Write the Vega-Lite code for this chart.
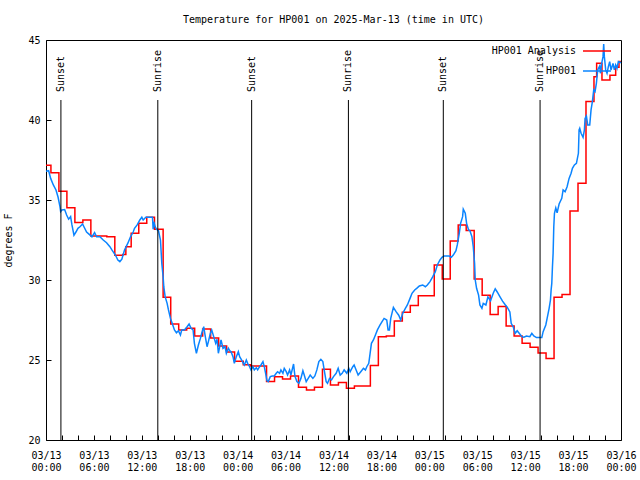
{
"$schema": "https://vega.github.io/schema/vega-lite/v6.json",
"width": 575, "height": 400,
"autosize": "none",
"padding": {"left": 46, "top": 40, "right": 19, "bottom": 40},
"background": "white",
"title": {"text": "Temperature for HP001 on 2025-Mar-13 (time in UTC)", "font": "DejaVu Sans Mono", "fontSize": 10, "fontWeight": "normal", "color": "black", "anchor": "middle", "offset": 10},
"config": {
  "view": {"stroke": "black", "strokeWidth": 1},
  "axis": {"labelFont": "DejaVu Sans Mono", "labelFontSize": 10, "labelColor": "black", "tickColor": "black", "domain": false, "grid": false, "titleFont": "DejaVu Sans Mono", "titleFontSize": 10, "titleFontWeight": "normal", "titleColor": "black"},
  "legend": {"orient": "none", "legendX": 536, "legendY": -4, "symbolType": "stroke", "symbolSize": 784, "symbolStrokeWidth": 1.5, "labelFont": "DejaVu Sans Mono", "labelFontSize": 10, "labelColor": "black", "labelAlign": "right", "labelOffset": -36, "rowPadding": -15, "padding": 0}
},
"datasets": {
  "sun": [
    {"t": "2025-03-13T01:52:00Z", "label": "Sunset"},
    {"t": "2025-03-13T14:00:00Z", "label": "Sunrise"},
    {"t": "2025-03-14T01:45:00Z", "label": "Sunset"},
    {"t": "2025-03-14T13:52:00Z", "label": "Sunrise"},
    {"t": "2025-03-15T01:45:00Z", "label": "Sunset"},
    {"t": "2025-03-15T13:52:00Z", "label": "Sunrise"}
  ],
  "analysis": [
    {"t": "2025-03-13T00:00:00Z", "v": 37.17},
    {"t": "2025-03-13T00:37:00Z", "v": 36.7},
    {"t": "2025-03-13T01:37:00Z", "v": 35.54},
    {"t": "2025-03-13T02:37:00Z", "v": 34.52},
    {"t": "2025-03-13T03:37:00Z", "v": 33.6},
    {"t": "2025-03-13T04:37:00Z", "v": 33.75},
    {"t": "2025-03-13T05:37:00Z", "v": 32.75},
    {"t": "2025-03-13T07:37:00Z", "v": 32.7},
    {"t": "2025-03-13T08:37:00Z", "v": 31.55},
    {"t": "2025-03-13T09:37:00Z", "v": 31.6},
    {"t": "2025-03-13T10:00:00Z", "v": 32.08},
    {"t": "2025-03-13T10:40:00Z", "v": 32.92},
    {"t": "2025-03-13T11:37:00Z", "v": 33.54},
    {"t": "2025-03-13T12:37:00Z", "v": 33.92},
    {"t": "2025-03-13T13:35:00Z", "v": 33.17},
    {"t": "2025-03-13T14:40:00Z", "v": 28.92},
    {"t": "2025-03-13T15:37:00Z", "v": 27.25},
    {"t": "2025-03-13T16:37:00Z", "v": 26.88},
    {"t": "2025-03-13T17:37:00Z", "v": 26.98},
    {"t": "2025-03-13T18:37:00Z", "v": 26.5},
    {"t": "2025-03-13T19:37:00Z", "v": 26.94},
    {"t": "2025-03-13T20:37:00Z", "v": 26.38},
    {"t": "2025-03-13T21:37:00Z", "v": 25.88},
    {"t": "2025-03-13T22:37:00Z", "v": 25.5},
    {"t": "2025-03-13T23:37:00Z", "v": 24.92},
    {"t": "2025-03-14T00:42:00Z", "v": 24.71},
    {"t": "2025-03-14T01:37:00Z", "v": 24.63},
    {"t": "2025-03-14T03:37:00Z", "v": 23.65},
    {"t": "2025-03-14T04:37:00Z", "v": 23.96},
    {"t": "2025-03-14T05:37:00Z", "v": 23.81},
    {"t": "2025-03-14T06:37:00Z", "v": 24.0},
    {"t": "2025-03-14T07:37:00Z", "v": 23.29},
    {"t": "2025-03-14T08:37:00Z", "v": 23.13},
    {"t": "2025-03-14T09:37:00Z", "v": 23.29},
    {"t": "2025-03-14T10:37:00Z", "v": 24.42},
    {"t": "2025-03-14T11:37:00Z", "v": 23.44},
    {"t": "2025-03-14T12:37:00Z", "v": 23.6},
    {"t": "2025-03-14T13:37:00Z", "v": 23.23},
    {"t": "2025-03-14T14:37:00Z", "v": 23.38},
    {"t": "2025-03-14T16:37:00Z", "v": 24.65},
    {"t": "2025-03-14T17:37:00Z", "v": 26.46},
    {"t": "2025-03-14T18:37:00Z", "v": 26.5},
    {"t": "2025-03-14T19:37:00Z", "v": 27.44},
    {"t": "2025-03-14T20:37:00Z", "v": 27.98},
    {"t": "2025-03-14T21:37:00Z", "v": 28.4},
    {"t": "2025-03-14T22:37:00Z", "v": 29.02},
    {"t": "2025-03-15T00:37:00Z", "v": 30.94},
    {"t": "2025-03-15T01:37:00Z", "v": 30.06},
    {"t": "2025-03-15T02:37:00Z", "v": 32.44},
    {"t": "2025-03-15T03:37:00Z", "v": 33.44},
    {"t": "2025-03-15T04:37:00Z", "v": 33.1},
    {"t": "2025-03-15T05:37:00Z", "v": 30.06},
    {"t": "2025-03-15T06:37:00Z", "v": 29.04},
    {"t": "2025-03-15T07:37:00Z", "v": 27.85},
    {"t": "2025-03-15T08:37:00Z", "v": 28.35},
    {"t": "2025-03-15T09:37:00Z", "v": 27.12},
    {"t": "2025-03-15T10:37:00Z", "v": 26.5},
    {"t": "2025-03-15T11:37:00Z", "v": 26.04},
    {"t": "2025-03-15T12:37:00Z", "v": 25.8},
    {"t": "2025-03-15T13:37:00Z", "v": 25.44},
    {"t": "2025-03-15T14:37:00Z", "v": 25.1},
    {"t": "2025-03-15T15:37:00Z", "v": 28.92},
    {"t": "2025-03-15T16:37:00Z", "v": 29.1},
    {"t": "2025-03-15T17:37:00Z", "v": 34.31},
    {"t": "2025-03-15T18:37:00Z", "v": 36.04},
    {"t": "2025-03-15T19:37:00Z", "v": 41.15},
    {"t": "2025-03-15T20:37:00Z", "v": 42.71},
    {"t": "2025-03-15T20:57:00Z", "v": 43.54},
    {"t": "2025-03-15T21:37:00Z", "v": 42.5},
    {"t": "2025-03-15T22:37:00Z", "v": 42.8},
    {"t": "2025-03-15T23:20:00Z", "v": 43.3},
    {"t": "2025-03-15T23:45:00Z", "v": 43.65},
    {"t": "2025-03-16T00:00:00Z", "v": 43.65}
  ],
  "obs": [
    {"t": "2025-03-13T00:00:00Z", "v": 36.8},
    {"t": "2025-03-13T00:20:00Z", "v": 36.83},
    {"t": "2025-03-13T00:35:00Z", "v": 36.35},
    {"t": "2025-03-13T00:55:00Z", "v": 35.94},
    {"t": "2025-03-13T01:15:00Z", "v": 35.63},
    {"t": "2025-03-13T01:30:00Z", "v": 35.2},
    {"t": "2025-03-13T01:45:00Z", "v": 34.58},
    {"t": "2025-03-13T01:50:00Z", "v": 34.27},
    {"t": "2025-03-13T02:00:00Z", "v": 34.38},
    {"t": "2025-03-13T02:20:00Z", "v": 34.4},
    {"t": "2025-03-13T02:35:00Z", "v": 34.06},
    {"t": "2025-03-13T02:50:00Z", "v": 33.8},
    {"t": "2025-03-13T03:05:00Z", "v": 33.96},
    {"t": "2025-03-13T03:15:00Z", "v": 33.44},
    {"t": "2025-03-13T03:30:00Z", "v": 32.8},
    {"t": "2025-03-13T03:45:00Z", "v": 33.0},
    {"t": "2025-03-13T04:00:00Z", "v": 33.23},
    {"t": "2025-03-13T04:15:00Z", "v": 33.33},
    {"t": "2025-03-13T04:35:00Z", "v": 33.5},
    {"t": "2025-03-13T04:45:00Z", "v": 33.33},
    {"t": "2025-03-13T05:05:00Z", "v": 33.0},
    {"t": "2025-03-13T05:25:00Z", "v": 32.85},
    {"t": "2025-03-13T05:45:00Z", "v": 32.7},
    {"t": "2025-03-13T06:05:00Z", "v": 32.96},
    {"t": "2025-03-13T06:20:00Z", "v": 32.7},
    {"t": "2025-03-13T06:45:00Z", "v": 32.7},
    {"t": "2025-03-13T07:10:00Z", "v": 32.5},
    {"t": "2025-03-13T07:35:00Z", "v": 32.33},
    {"t": "2025-03-13T08:00:00Z", "v": 32.08},
    {"t": "2025-03-13T08:15:00Z", "v": 31.88},
    {"t": "2025-03-13T08:30:00Z", "v": 31.7},
    {"t": "2025-03-13T08:45:00Z", "v": 31.5},
    {"t": "2025-03-13T09:00:00Z", "v": 31.25},
    {"t": "2025-03-13T09:15:00Z", "v": 31.15},
    {"t": "2025-03-13T09:30:00Z", "v": 31.3},
    {"t": "2025-03-13T09:50:00Z", "v": 31.88},
    {"t": "2025-03-13T10:15:00Z", "v": 32.3},
    {"t": "2025-03-13T10:35:00Z", "v": 32.7},
    {"t": "2025-03-13T10:55:00Z", "v": 33.0},
    {"t": "2025-03-13T11:05:00Z", "v": 33.23},
    {"t": "2025-03-13T11:25:00Z", "v": 33.44},
    {"t": "2025-03-13T11:45:00Z", "v": 33.75},
    {"t": "2025-03-13T12:00:00Z", "v": 33.92},
    {"t": "2025-03-13T12:10:00Z", "v": 33.75},
    {"t": "2025-03-13T12:30:00Z", "v": 33.92},
    {"t": "2025-03-13T13:00:00Z", "v": 33.92},
    {"t": "2025-03-13T13:20:00Z", "v": 33.92},
    {"t": "2025-03-13T13:25:00Z", "v": 33.17},
    {"t": "2025-03-13T13:30:00Z", "v": 33.64},
    {"t": "2025-03-13T13:40:00Z", "v": 33.33},
    {"t": "2025-03-13T13:50:00Z", "v": 33.17},
    {"t": "2025-03-13T14:05:00Z", "v": 33.08},
    {"t": "2025-03-13T14:20:00Z", "v": 32.5},
    {"t": "2025-03-13T14:30:00Z", "v": 31.04},
    {"t": "2025-03-13T14:40:00Z", "v": 30.2},
    {"t": "2025-03-13T14:45:00Z", "v": 29.58},
    {"t": "2025-03-13T14:55:00Z", "v": 28.96},
    {"t": "2025-03-13T15:10:00Z", "v": 28.54},
    {"t": "2025-03-13T15:20:00Z", "v": 28.13},
    {"t": "2025-03-13T15:35:00Z", "v": 27.6},
    {"t": "2025-03-13T15:50:00Z", "v": 27.25},
    {"t": "2025-03-13T16:05:00Z", "v": 26.88},
    {"t": "2025-03-13T16:20:00Z", "v": 26.7},
    {"t": "2025-03-13T16:35:00Z", "v": 26.83},
    {"t": "2025-03-13T16:50:00Z", "v": 26.56},
    {"t": "2025-03-13T17:00:00Z", "v": 26.88},
    {"t": "2025-03-13T17:20:00Z", "v": 26.88},
    {"t": "2025-03-13T17:40:00Z", "v": 27.08},
    {"t": "2025-03-13T17:55:00Z", "v": 27.25},
    {"t": "2025-03-13T18:10:00Z", "v": 26.98},
    {"t": "2025-03-13T18:25:00Z", "v": 26.88},
    {"t": "2025-03-13T18:35:00Z", "v": 26.04},
    {"t": "2025-03-13T18:50:00Z", "v": 25.42},
    {"t": "2025-03-13T19:05:00Z", "v": 25.94},
    {"t": "2025-03-13T19:20:00Z", "v": 26.35},
    {"t": "2025-03-13T19:30:00Z", "v": 26.67},
    {"t": "2025-03-13T19:45:00Z", "v": 27.08},
    {"t": "2025-03-13T19:55:00Z", "v": 26.56},
    {"t": "2025-03-13T20:10:00Z", "v": 25.83},
    {"t": "2025-03-13T20:20:00Z", "v": 26.15},
    {"t": "2025-03-13T20:35:00Z", "v": 26.67},
    {"t": "2025-03-13T20:45:00Z", "v": 26.88},
    {"t": "2025-03-13T21:00:00Z", "v": 26.46},
    {"t": "2025-03-13T21:15:00Z", "v": 26.04},
    {"t": "2025-03-13T21:25:00Z", "v": 26.29},
    {"t": "2025-03-13T21:35:00Z", "v": 25.42},
    {"t": "2025-03-13T21:45:00Z", "v": 25.83},
    {"t": "2025-03-13T21:55:00Z", "v": 26.25},
    {"t": "2025-03-13T22:10:00Z", "v": 25.73},
    {"t": "2025-03-13T22:25:00Z", "v": 25.83},
    {"t": "2025-03-13T22:35:00Z", "v": 25.42},
    {"t": "2025-03-13T22:50:00Z", "v": 25.73},
    {"t": "2025-03-13T23:00:00Z", "v": 25.58},
    {"t": "2025-03-13T23:10:00Z", "v": 25.52},
    {"t": "2025-03-13T23:25:00Z", "v": 25.21},
    {"t": "2025-03-13T23:35:00Z", "v": 24.79},
    {"t": "2025-03-13T23:50:00Z", "v": 25.21},
    {"t": "2025-03-14T00:05:00Z", "v": 25.52},
    {"t": "2025-03-14T00:15:00Z", "v": 25.21},
    {"t": "2025-03-14T00:30:00Z", "v": 25.0},
    {"t": "2025-03-14T00:40:00Z", "v": 24.83},
    {"t": "2025-03-14T00:50:00Z", "v": 24.69},
    {"t": "2025-03-14T01:05:00Z", "v": 25.0},
    {"t": "2025-03-14T01:15:00Z", "v": 24.79},
    {"t": "2025-03-14T01:30:00Z", "v": 24.58},
    {"t": "2025-03-14T01:40:00Z", "v": 24.38},
    {"t": "2025-03-14T01:55:00Z", "v": 24.58},
    {"t": "2025-03-14T02:05:00Z", "v": 24.38},
    {"t": "2025-03-14T02:20:00Z", "v": 24.52},
    {"t": "2025-03-14T02:30:00Z", "v": 24.38},
    {"t": "2025-03-14T02:45:00Z", "v": 24.58},
    {"t": "2025-03-14T02:55:00Z", "v": 24.69},
    {"t": "2025-03-14T03:10:00Z", "v": 24.9},
    {"t": "2025-03-14T03:20:00Z", "v": 24.58},
    {"t": "2025-03-14T03:30:00Z", "v": 24.17},
    {"t": "2025-03-14T03:40:00Z", "v": 23.71},
    {"t": "2025-03-14T03:50:00Z", "v": 23.65},
    {"t": "2025-03-14T04:05:00Z", "v": 23.96},
    {"t": "2025-03-14T04:20:00Z", "v": 24.0},
    {"t": "2025-03-14T04:35:00Z", "v": 24.0},
    {"t": "2025-03-14T04:50:00Z", "v": 24.17},
    {"t": "2025-03-14T05:00:00Z", "v": 24.27},
    {"t": "2025-03-14T05:15:00Z", "v": 24.17},
    {"t": "2025-03-14T05:25:00Z", "v": 24.38},
    {"t": "2025-03-14T05:40:00Z", "v": 24.17},
    {"t": "2025-03-14T05:50:00Z", "v": 24.48},
    {"t": "2025-03-14T06:05:00Z", "v": 24.27},
    {"t": "2025-03-14T06:15:00Z", "v": 24.06},
    {"t": "2025-03-14T06:30:00Z", "v": 24.38},
    {"t": "2025-03-14T06:40:00Z", "v": 24.06},
    {"t": "2025-03-14T07:00:00Z", "v": 24.75},
    {"t": "2025-03-14T07:10:00Z", "v": 24.0},
    {"t": "2025-03-14T07:25:00Z", "v": 23.65},
    {"t": "2025-03-14T07:40:00Z", "v": 23.54},
    {"t": "2025-03-14T07:55:00Z", "v": 23.85},
    {"t": "2025-03-14T08:10:00Z", "v": 24.33},
    {"t": "2025-03-14T08:20:00Z", "v": 24.06},
    {"t": "2025-03-14T08:35:00Z", "v": 23.65},
    {"t": "2025-03-14T08:50:00Z", "v": 23.85},
    {"t": "2025-03-14T09:05:00Z", "v": 24.06},
    {"t": "2025-03-14T09:25:00Z", "v": 23.85},
    {"t": "2025-03-14T09:40:00Z", "v": 24.0},
    {"t": "2025-03-14T09:55:00Z", "v": 24.38},
    {"t": "2025-03-14T10:10:00Z", "v": 24.9},
    {"t": "2025-03-14T10:25:00Z", "v": 25.04},
    {"t": "2025-03-14T10:40:00Z", "v": 24.9},
    {"t": "2025-03-14T10:50:00Z", "v": 24.38},
    {"t": "2025-03-14T11:05:00Z", "v": 23.65},
    {"t": "2025-03-14T11:15:00Z", "v": 23.54},
    {"t": "2025-03-14T11:30:00Z", "v": 23.85},
    {"t": "2025-03-14T11:45:00Z", "v": 23.75},
    {"t": "2025-03-14T12:00:00Z", "v": 23.96},
    {"t": "2025-03-14T12:20:00Z", "v": 24.17},
    {"t": "2025-03-14T12:35:00Z", "v": 24.48},
    {"t": "2025-03-14T12:50:00Z", "v": 24.06},
    {"t": "2025-03-14T13:05:00Z", "v": 24.17},
    {"t": "2025-03-14T13:20:00Z", "v": 24.38},
    {"t": "2025-03-14T13:40:00Z", "v": 24.17},
    {"t": "2025-03-14T13:55:00Z", "v": 24.48},
    {"t": "2025-03-14T14:05:00Z", "v": 24.27},
    {"t": "2025-03-14T14:25:00Z", "v": 24.58},
    {"t": "2025-03-14T14:35:00Z", "v": 24.69},
    {"t": "2025-03-14T14:50:00Z", "v": 24.38},
    {"t": "2025-03-14T15:05:00Z", "v": 24.06},
    {"t": "2025-03-14T15:25:00Z", "v": 24.27},
    {"t": "2025-03-14T15:45:00Z", "v": 24.48},
    {"t": "2025-03-14T16:00:00Z", "v": 24.38},
    {"t": "2025-03-14T16:10:00Z", "v": 24.58},
    {"t": "2025-03-14T16:25:00Z", "v": 24.79},
    {"t": "2025-03-14T16:35:00Z", "v": 25.42},
    {"t": "2025-03-14T16:45:00Z", "v": 26.04},
    {"t": "2025-03-14T17:00:00Z", "v": 26.25},
    {"t": "2025-03-14T17:15:00Z", "v": 26.56},
    {"t": "2025-03-14T17:30:00Z", "v": 26.88},
    {"t": "2025-03-14T17:50:00Z", "v": 27.19},
    {"t": "2025-03-14T18:05:00Z", "v": 27.4},
    {"t": "2025-03-14T18:20:00Z", "v": 27.6},
    {"t": "2025-03-14T18:40:00Z", "v": 27.5},
    {"t": "2025-03-14T18:50:00Z", "v": 26.88},
    {"t": "2025-03-14T19:00:00Z", "v": 26.88},
    {"t": "2025-03-14T19:10:00Z", "v": 27.6},
    {"t": "2025-03-14T19:30:00Z", "v": 28.29},
    {"t": "2025-03-14T19:50:00Z", "v": 28.02},
    {"t": "2025-03-14T20:10:00Z", "v": 27.8},
    {"t": "2025-03-14T20:25:00Z", "v": 27.5},
    {"t": "2025-03-14T20:40:00Z", "v": 27.92},
    {"t": "2025-03-14T21:00:00Z", "v": 28.23},
    {"t": "2025-03-14T21:15:00Z", "v": 28.44},
    {"t": "2025-03-14T21:35:00Z", "v": 28.85},
    {"t": "2025-03-14T21:50:00Z", "v": 29.17},
    {"t": "2025-03-14T22:10:00Z", "v": 29.38},
    {"t": "2025-03-14T22:25:00Z", "v": 29.48},
    {"t": "2025-03-14T22:45:00Z", "v": 29.63},
    {"t": "2025-03-14T23:10:00Z", "v": 29.69},
    {"t": "2025-03-14T23:30:00Z", "v": 29.58},
    {"t": "2025-03-14T23:45:00Z", "v": 29.69},
    {"t": "2025-03-15T00:05:00Z", "v": 29.9},
    {"t": "2025-03-15T00:25:00Z", "v": 30.2},
    {"t": "2025-03-15T00:45:00Z", "v": 30.52},
    {"t": "2025-03-15T01:00:00Z", "v": 30.94},
    {"t": "2025-03-15T01:20:00Z", "v": 31.25},
    {"t": "2025-03-15T01:35:00Z", "v": 31.42},
    {"t": "2025-03-15T01:50:00Z", "v": 31.5},
    {"t": "2025-03-15T02:30:00Z", "v": 31.5},
    {"t": "2025-03-15T02:45:00Z", "v": 31.42},
    {"t": "2025-03-15T03:00:00Z", "v": 31.56},
    {"t": "2025-03-15T03:20:00Z", "v": 31.83},
    {"t": "2025-03-15T03:30:00Z", "v": 32.19},
    {"t": "2025-03-15T03:45:00Z", "v": 32.92},
    {"t": "2025-03-15T03:55:00Z", "v": 33.54},
    {"t": "2025-03-15T04:10:00Z", "v": 33.96},
    {"t": "2025-03-15T04:15:00Z", "v": 34.42},
    {"t": "2025-03-15T04:30:00Z", "v": 34.17},
    {"t": "2025-03-15T04:40:00Z", "v": 33.54},
    {"t": "2025-03-15T04:55:00Z", "v": 33.13},
    {"t": "2025-03-15T05:05:00Z", "v": 33.08},
    {"t": "2025-03-15T05:20:00Z", "v": 32.71},
    {"t": "2025-03-15T05:30:00Z", "v": 32.08},
    {"t": "2025-03-15T05:40:00Z", "v": 31.04},
    {"t": "2025-03-15T05:45:00Z", "v": 30.0},
    {"t": "2025-03-15T05:55:00Z", "v": 29.48},
    {"t": "2025-03-15T06:10:00Z", "v": 29.06},
    {"t": "2025-03-15T06:20:00Z", "v": 28.44},
    {"t": "2025-03-15T06:35:00Z", "v": 28.23},
    {"t": "2025-03-15T06:45:00Z", "v": 28.54},
    {"t": "2025-03-15T07:05:00Z", "v": 28.44},
    {"t": "2025-03-15T07:20:00Z", "v": 28.95},
    {"t": "2025-03-15T07:40:00Z", "v": 28.7},
    {"t": "2025-03-15T08:00:00Z", "v": 29.17},
    {"t": "2025-03-15T08:15:00Z", "v": 29.45},
    {"t": "2025-03-15T08:30:00Z", "v": 29.25},
    {"t": "2025-03-15T08:50:00Z", "v": 28.96},
    {"t": "2025-03-15T09:10:00Z", "v": 28.68},
    {"t": "2025-03-15T09:30:00Z", "v": 28.45},
    {"t": "2025-03-15T09:45:00Z", "v": 28.3},
    {"t": "2025-03-15T10:05:00Z", "v": 28.0},
    {"t": "2025-03-15T10:15:00Z", "v": 27.29},
    {"t": "2025-03-15T10:30:00Z", "v": 27.08},
    {"t": "2025-03-15T10:45:00Z", "v": 26.67},
    {"t": "2025-03-15T11:00:00Z", "v": 26.83},
    {"t": "2025-03-15T11:15:00Z", "v": 26.67},
    {"t": "2025-03-15T11:35:00Z", "v": 26.46},
    {"t": "2025-03-15T11:50:00Z", "v": 26.42},
    {"t": "2025-03-15T12:10:00Z", "v": 26.5},
    {"t": "2025-03-15T12:35:00Z", "v": 26.46},
    {"t": "2025-03-15T12:50:00Z", "v": 26.67},
    {"t": "2025-03-15T13:05:00Z", "v": 26.5},
    {"t": "2025-03-15T13:25:00Z", "v": 26.4},
    {"t": "2025-03-15T14:05:00Z", "v": 26.4},
    {"t": "2025-03-15T14:15:00Z", "v": 26.77},
    {"t": "2025-03-15T14:35:00Z", "v": 27.19},
    {"t": "2025-03-15T14:45:00Z", "v": 27.6},
    {"t": "2025-03-15T15:00:00Z", "v": 28.23},
    {"t": "2025-03-15T15:10:00Z", "v": 28.75},
    {"t": "2025-03-15T15:15:00Z", "v": 29.38},
    {"t": "2025-03-15T15:20:00Z", "v": 29.79},
    {"t": "2025-03-15T15:25:00Z", "v": 30.83},
    {"t": "2025-03-15T15:30:00Z", "v": 31.67},
    {"t": "2025-03-15T15:35:00Z", "v": 33.33},
    {"t": "2025-03-15T15:40:00Z", "v": 34.17},
    {"t": "2025-03-15T15:50:00Z", "v": 34.5},
    {"t": "2025-03-15T16:00:00Z", "v": 34.2},
    {"t": "2025-03-15T16:15:00Z", "v": 34.75},
    {"t": "2025-03-15T16:35:00Z", "v": 35.1},
    {"t": "2025-03-15T16:45:00Z", "v": 35.63},
    {"t": "2025-03-15T17:00:00Z", "v": 35.52},
    {"t": "2025-03-15T17:15:00Z", "v": 35.83},
    {"t": "2025-03-15T17:30:00Z", "v": 36.35},
    {"t": "2025-03-15T17:45:00Z", "v": 36.67},
    {"t": "2025-03-15T17:55:00Z", "v": 36.98},
    {"t": "2025-03-15T18:10:00Z", "v": 37.19},
    {"t": "2025-03-15T18:25:00Z", "v": 37.29},
    {"t": "2025-03-15T18:40:00Z", "v": 37.92},
    {"t": "2025-03-15T18:45:00Z", "v": 39.38},
    {"t": "2025-03-15T18:50:00Z", "v": 39.48},
    {"t": "2025-03-15T19:00:00Z", "v": 39.17},
    {"t": "2025-03-15T19:15:00Z", "v": 38.92},
    {"t": "2025-03-15T19:25:00Z", "v": 39.38},
    {"t": "2025-03-15T19:30:00Z", "v": 40.1},
    {"t": "2025-03-15T19:40:00Z", "v": 40.25},
    {"t": "2025-03-15T19:50:00Z", "v": 39.69},
    {"t": "2025-03-15T20:05:00Z", "v": 39.69},
    {"t": "2025-03-15T20:15:00Z", "v": 40.63},
    {"t": "2025-03-15T20:25:00Z", "v": 41.15},
    {"t": "2025-03-15T20:35:00Z", "v": 41.88},
    {"t": "2025-03-15T20:45:00Z", "v": 41.77},
    {"t": "2025-03-15T20:55:00Z", "v": 42.29},
    {"t": "2025-03-15T21:05:00Z", "v": 43.13},
    {"t": "2025-03-15T21:20:00Z", "v": 43.38},
    {"t": "2025-03-15T21:25:00Z", "v": 42.92},
    {"t": "2025-03-15T21:35:00Z", "v": 43.54},
    {"t": "2025-03-15T21:45:00Z", "v": 43.96},
    {"t": "2025-03-15T21:50:00Z", "v": 44.75},
    {"t": "2025-03-15T21:55:00Z", "v": 43.96},
    {"t": "2025-03-15T22:05:00Z", "v": 43.13},
    {"t": "2025-03-15T22:15:00Z", "v": 42.92},
    {"t": "2025-03-15T22:25:00Z", "v": 43.33},
    {"t": "2025-03-15T22:35:00Z", "v": 43.65},
    {"t": "2025-03-15T22:45:00Z", "v": 43.13},
    {"t": "2025-03-15T23:00:00Z", "v": 43.54},
    {"t": "2025-03-15T23:10:00Z", "v": 43.13},
    {"t": "2025-03-15T23:20:00Z", "v": 43.44},
    {"t": "2025-03-15T23:30:00Z", "v": 43.23},
    {"t": "2025-03-15T23:40:00Z", "v": 43.65},
    {"t": "2025-03-16T00:00:00Z", "v": 43.58}
  ]
},
"layer": [
  {
    "data": {"name": "analysis"},
    "mark": {"type": "line", "interpolate": "step-after", "strokeWidth": 1.5},
    "encoding": {
      "x": {"field": "t", "type": "temporal",
        "scale": {"nice": false},
        "axis": {"title": null, "tickCount": 40, "tickSize": -5, "labelPadding": 15, "labelOverlap": false, "labelFlush": false, "labelLineHeight": 12,
          "values": [
            {"year": 2025, "month": 3, "date": 13, "hours": 0}, {"year": 2025, "month": 3, "date": 13, "hours": 2}, {"year": 2025, "month": 3, "date": 13, "hours": 4},
            {"year": 2025, "month": 3, "date": 13, "hours": 6}, {"year": 2025, "month": 3, "date": 13, "hours": 8}, {"year": 2025, "month": 3, "date": 13, "hours": 10},
            {"year": 2025, "month": 3, "date": 13, "hours": 12}, {"year": 2025, "month": 3, "date": 13, "hours": 14}, {"year": 2025, "month": 3, "date": 13, "hours": 16},
            {"year": 2025, "month": 3, "date": 13, "hours": 18}, {"year": 2025, "month": 3, "date": 13, "hours": 20}, {"year": 2025, "month": 3, "date": 13, "hours": 22},
            {"year": 2025, "month": 3, "date": 14, "hours": 0}, {"year": 2025, "month": 3, "date": 14, "hours": 2}, {"year": 2025, "month": 3, "date": 14, "hours": 4},
            {"year": 2025, "month": 3, "date": 14, "hours": 6}, {"year": 2025, "month": 3, "date": 14, "hours": 8}, {"year": 2025, "month": 3, "date": 14, "hours": 10},
            {"year": 2025, "month": 3, "date": 14, "hours": 12}, {"year": 2025, "month": 3, "date": 14, "hours": 14}, {"year": 2025, "month": 3, "date": 14, "hours": 16},
            {"year": 2025, "month": 3, "date": 14, "hours": 18}, {"year": 2025, "month": 3, "date": 14, "hours": 20}, {"year": 2025, "month": 3, "date": 14, "hours": 22},
            {"year": 2025, "month": 3, "date": 15, "hours": 0}, {"year": 2025, "month": 3, "date": 15, "hours": 2}, {"year": 2025, "month": 3, "date": 15, "hours": 4},
            {"year": 2025, "month": 3, "date": 15, "hours": 6}, {"year": 2025, "month": 3, "date": 15, "hours": 8}, {"year": 2025, "month": 3, "date": 15, "hours": 10},
            {"year": 2025, "month": 3, "date": 15, "hours": 12}, {"year": 2025, "month": 3, "date": 15, "hours": 14}, {"year": 2025, "month": 3, "date": 15, "hours": 16},
            {"year": 2025, "month": 3, "date": 15, "hours": 18}, {"year": 2025, "month": 3, "date": 15, "hours": 20}, {"year": 2025, "month": 3, "date": 15, "hours": 22},
            {"year": 2025, "month": 3, "date": 16, "hours": 0}
          ],
          "labelExpr": "hours(datum.value) % 6 == 0 ? [timeFormat(datum.value, '%m/%d'), timeFormat(datum.value, '%H:%M')] : ''"}},
      "y": {"field": "v", "type": "quantitative",
        "scale": {"domain": [20, 45], "nice": false, "zero": false},
        "axis": {"title": "degrees F", "values": [20, 25, 30, 35, 40, 45], "tickSize": -5, "labelPadding": 11, "titlePadding": 14}},
      "color": {"datum": "HP001 Analysis", "scale": {"domain": ["HP001 Analysis", "HP001"], "range": ["#ff0000", "#0a84ff"]}, "legend": {"title": null}}
    }
  },
  {
    "data": {"name": "obs"},
    "mark": {"type": "line", "strokeWidth": 1.5},
    "encoding": {
      "x": {"field": "t", "type": "temporal"},
      "y": {"field": "v", "type": "quantitative"},
      "color": {"datum": "HP001"}
    }
  },
  {
    "data": {"name": "sun"},
    "mark": {"type": "rule", "color": "black", "strokeWidth": 1},
    "encoding": {
      "x": {"field": "t", "type": "temporal"},
      "y": {"datum": 41.25, "type": "quantitative"},
      "y2": {"datum": 20}
    }
  },
  {
    "data": {"name": "sun"},
    "mark": {"type": "text", "angle": 270, "align": "left", "baseline": "middle", "font": "DejaVu Sans Mono", "fontSize": 10, "color": "black"},
    "encoding": {
      "x": {"field": "t", "type": "temporal"},
      "y": {"datum": 41.75, "type": "quantitative"},
      "text": {"field": "label"}
    }
  }
]
}
